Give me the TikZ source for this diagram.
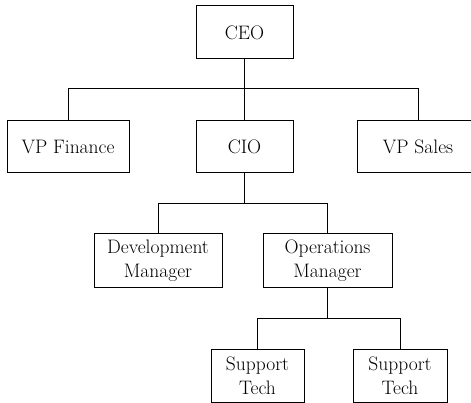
\documentclass[tikz,border=0pt]{standalone}
\usetikzlibrary{positioning}

\begin{document}
\begin{tikzpicture}[x=1pt, y=-1pt, line width=1pt,
  role_node/.style={draw, rectangle, inner sep=0pt, align=center,
    font=\fontsize{19.5}{24}\selectfont}]

\useasboundingbox (0,0) rectangle (471,403);
\clip (0,0) rectangle (471,403);

\node[role_node, minimum width=97pt, minimum height=53pt] (ceo) at (244.5, 32.5) {CEO};
\node[role_node, minimum width=122pt, minimum height=52pt] (vpf) at (68, 147) {VP Finance};
\node[role_node, minimum width=97pt, minimum height=52pt] (cio) at (244.5, 147) {CIO};
\node[role_node, minimum width=122pt, minimum height=52pt] (vps) at (418, 147) {VP Sales};
\node[role_node, minimum width=128pt, minimum height=54pt] (dev) at (158, 261) {Development\\Manager};
\node[role_node, minimum width=129pt, minimum height=54pt] (ops) at (327.5, 261) {Operations\\Manager};
\node[role_node, minimum width=93pt, minimum height=53pt] (st1) at (257.5, 375.5) {Support\\Tech};
\node[role_node, minimum width=94pt, minimum height=53pt] (st2) at (400, 375.5) {Support\\Tech};

\coordinate (bus1) at (244.5, 89);
\coordinate (bus2) at (244.5, 204);
\coordinate (bus3) at (327.5, 318);

\path[draw]
\foreach \i/\j in {ceo/bus1, cio/bus2, ops/bus3}{(\i.south) -- (\j) }
\foreach \i/\j in {vpf/bus1, cio/bus1, vps/bus1, dev/bus2, ops/bus2, st1/bus3, st2/bus3}{(\i.north) |- (\j) };

\end{tikzpicture}
\end{document}
